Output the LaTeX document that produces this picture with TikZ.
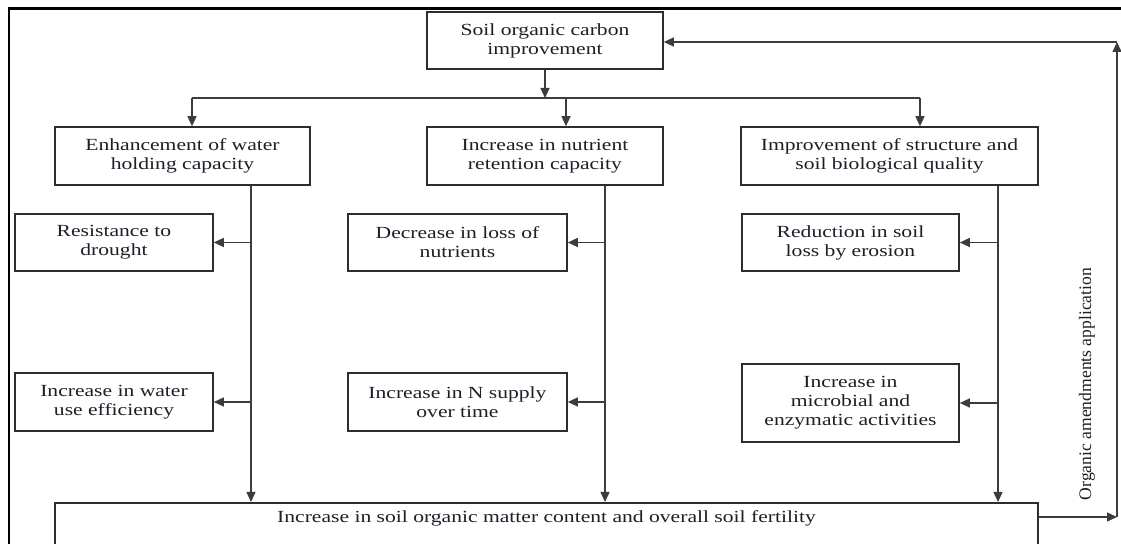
\documentclass[tikz,border=0pt]{standalone}
\usepackage{fontspec}
\setmainfont{Liberation Serif}
\newfontfamily\widefont[FakeStretch=1.27]{Liberation Serif}
\usepackage{tikz}
\usetikzlibrary{arrows.meta, positioning, calc}

\definecolor{inktext}{RGB}{30,30,40}
\definecolor{boxline}{RGB}{45,45,45}
\definecolor{linkline}{RGB}{60,60,60}

\begin{document}
\begin{tikzpicture}[x=0.5pt, y=-0.5pt,
		box/.style={rectangle, draw=boxline, line width=0.8pt, inner sep=0pt, align=center, text=inktext, font=\widefont\fontsize{8.5}{9.5}\selectfont},
		arr/.style={-{Triangle[length=5pt, width=4.5pt]}, line width=0.7pt, draw=linkline}]
		
		\useasboundingbox (0,0) rectangle (1121,544);
		\draw[line width=1.2pt, black] (9,544) -- (9,8.5) -- (1121,8.5);
		
		\node[box, minimum width=118pt, minimum height=28.5pt] (SOC) at (545,40.5) {Soil organic carbon\\improvement};
		
		\node[box, minimum width=127.5pt, minimum height=29pt] (WHC) at (182.5,156) {Enhancement of water\\holding capacity};
		\node[box, minimum width=118pt, minimum height=29pt] (NRC) at (545,156) {Increase in nutrient\\retention capacity};
		\node[box, minimum width=148.5pt, minimum height=29pt] (SBQ) at (889.5,156) {Improvement of structure and\\soil biological quality};
		
		\node[box, minimum width=99pt, minimum height=28.5pt] (RD) at (114,242.5) {Resistance to\\drought};
		\node[box, minimum width=99pt, minimum height=29pt] (WUE) at (114,402) {Increase in water\\use efficiency};
		\node[box, minimum width=109.5pt, minimum height=28.5pt] (DLN) at (457.5,242.5) {Decrease in loss of\\nutrients};
		\node[box, minimum width=109.5pt, minimum height=29pt] (NS) at (457.5,402) {Increase in N supply\\over time};
		\node[box, minimum width=108.5pt, minimum height=28.5pt] (RE) at (850.5,242.5) {Reduction in soil\\loss by erosion};
		\node[box, minimum width=108.5pt, minimum height=39pt] (ME) at (850.5,403) {Increase in\\microbial and\\enzymatic activities};
		
		% bottom box runs past the lower edge of the page
		\node[box, anchor=north, minimum width=491.5pt, inner ysep=4pt, text height=6pt, text depth=20pt] (SOM) at (546.5,502) {Increase in soil organic matter content and overall soil fertility};
		
		\coordinate (busL) at (192,98);
		\coordinate (busM) at (566,98);
		\coordinate (busR) at (920,98);
		\coordinate (tW) at (251,0);
		\coordinate (tN) at (605,0);
		\coordinate (tS) at (998,0);
		\coordinate (fbB) at (1117,517);
		\coordinate (fbT) at (1117,42);
		
		\draw[arr] (SOC.south) -- (SOC.south |- busL);
		\draw[line width=0.7pt, linkline] (busL) -- (busR);
		\draw[arr] (busL) -- (busL |- WHC.north);
		\draw[arr] (busM) -- (busM |- NRC.north);
		\draw[arr] (busR) -- (busR |- SBQ.north);
		
		\draw[arr] (WHC.south -| tW) -- (SOM.north -| tW);
		\draw[arr] (NRC.south -| tN) -- (SOM.north -| tN);
		\draw[arr] (SBQ.south -| tS) -- (SOM.north -| tS);
		
		\draw[arr] (RD.east -| tW) -- (RD.east);
		\draw[arr] (WUE.east -| tW) -- (WUE.east);
		\draw[arr] (DLN.east -| tN) -- (DLN.east);
		\draw[arr] (NS.east -| tN) -- (NS.east);
		\draw[arr] (RE.east -| tS) -- (RE.east);
		\draw[arr] (ME.east -| tS) -- (ME.east);
		
		% feedback loop
		\draw[arr] (fbB -| SOM.east) -- (fbB);
		\draw[arr] (fbB) -- (fbT);
		\draw[arr] (fbT) -- (fbT -| SOC.east);
		\node[rotate=90, text=inktext, font=\fontsize{8.8}{9.5}\selectfont] (OAA) at (1087,384) {Organic amendments application};
		
	\end{tikzpicture}
\end{document}
